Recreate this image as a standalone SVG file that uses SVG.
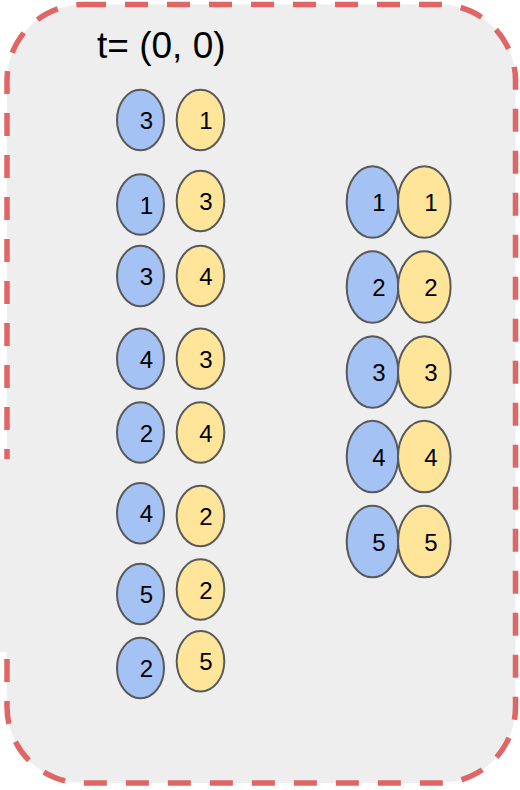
<svg xmlns="http://www.w3.org/2000/svg" width="520" height="790" viewBox="0 0 520 790">
<style>
.frame{fill:#eeeeee;stroke:#e06666;stroke-width:5.5;stroke-dasharray:23 19}
.b{fill:#a4c2f4;stroke:#595959;stroke-width:2}
.y{fill:#ffe599;stroke:#595959;stroke-width:2}
.n{font-family:"Liberation Sans",Arial,sans-serif;font-size:24px;fill:#000;text-anchor:middle}
.title{font-family:"Liberation Sans",Arial,sans-serif;font-size:37px;fill:#000}
</style>
<rect width="520" height="790" fill="#ffffff"/>
<g id="frame">
<rect class="frame" x="7" y="4.5" width="508.5" height="778.5" rx="76" ry="76"/>
<rect x="0" y="459" width="12" height="193" fill="#eeeeee"/>
</g>
<g id="title"><text class="title" x="97" y="58">t= (0, 0)</text></g>
<g id="left">
<g id="l1"><ellipse class="b" cx="140.5" cy="120" rx="23.5" ry="30.3"/><text class="n" x="146.5" y="129">3</text><ellipse class="y" cx="200.5" cy="120" rx="23.8" ry="30.3"/><text class="n" x="206" y="129">1</text></g>
<g id="l2"><ellipse class="b" cx="140.5" cy="204.5" rx="23.5" ry="30.3"/><text class="n" x="146.5" y="213.5">1</text><ellipse class="y" cx="200.5" cy="201" rx="23.8" ry="30.3"/><text class="n" x="206" y="210">3</text></g>
<g id="l3"><ellipse class="b" cx="140.5" cy="276" rx="23.5" ry="30.3"/><text class="n" x="146.5" y="285">3</text><ellipse class="y" cx="200.5" cy="276" rx="23.8" ry="30.3"/><text class="n" x="206" y="285">4</text></g>
<g id="l4"><ellipse class="b" cx="140.5" cy="358.8" rx="23.5" ry="30.3"/><text class="n" x="146.5" y="367.8">4</text><ellipse class="y" cx="200.5" cy="358.8" rx="23.8" ry="30.3"/><text class="n" x="206" y="367.8">3</text></g>
<g id="l5"><ellipse class="b" cx="140.5" cy="432.5" rx="23.5" ry="30.3"/><text class="n" x="146.5" y="441.5">2</text><ellipse class="y" cx="200.5" cy="432.5" rx="23.8" ry="30.3"/><text class="n" x="206" y="441.5">4</text></g>
<g id="l6"><ellipse class="b" cx="140.5" cy="513.3" rx="23.5" ry="30.3"/><text class="n" x="146.5" y="522.3">4</text><ellipse class="y" cx="200.5" cy="516" rx="23.8" ry="30.3"/><text class="n" x="206" y="525">2</text></g>
<g id="l7"><ellipse class="b" cx="140.5" cy="594" rx="23.5" ry="30.3"/><text class="n" x="146.5" y="603">5</text><ellipse class="y" cx="200.5" cy="589.5" rx="23.8" ry="30.3"/><text class="n" x="206" y="598.5">2</text></g>
<g id="l8"><ellipse class="b" cx="140.5" cy="668" rx="23.5" ry="30.3"/><text class="n" x="146.5" y="677">2</text><ellipse class="y" cx="200.5" cy="661.3" rx="23.8" ry="30.3"/><text class="n" x="206" y="670.3">5</text></g>
</g>
<g id="right">
<g id="r1"><ellipse class="b" cx="372.5" cy="202" rx="25.8" ry="35.8"/><ellipse class="y" cx="424.3" cy="202" rx="26.3" ry="35.8"/><text class="n" x="379" y="211">1</text><text class="n" x="431" y="211">1</text></g>
<g id="r2"><ellipse class="b" cx="372.5" cy="287" rx="25.8" ry="35.8"/><ellipse class="y" cx="424.3" cy="287" rx="26.3" ry="35.8"/><text class="n" x="379" y="296">2</text><text class="n" x="431" y="296">2</text></g>
<g id="r3"><ellipse class="b" cx="372.5" cy="372" rx="25.8" ry="35.8"/><ellipse class="y" cx="424.3" cy="372" rx="26.3" ry="35.8"/><text class="n" x="379" y="381">3</text><text class="n" x="431" y="381">3</text></g>
<g id="r4"><ellipse class="b" cx="372.5" cy="456.5" rx="25.8" ry="35.8"/><ellipse class="y" cx="424.3" cy="456.5" rx="26.3" ry="35.8"/><text class="n" x="379" y="465.5">4</text><text class="n" x="431" y="465.5">4</text></g>
<g id="r5"><ellipse class="b" cx="372.5" cy="541.5" rx="25.8" ry="35.8"/><ellipse class="y" cx="424.3" cy="541.5" rx="26.3" ry="35.8"/><text class="n" x="379" y="550.5">5</text><text class="n" x="431" y="550.5">5</text></g>
</g>
</svg>
